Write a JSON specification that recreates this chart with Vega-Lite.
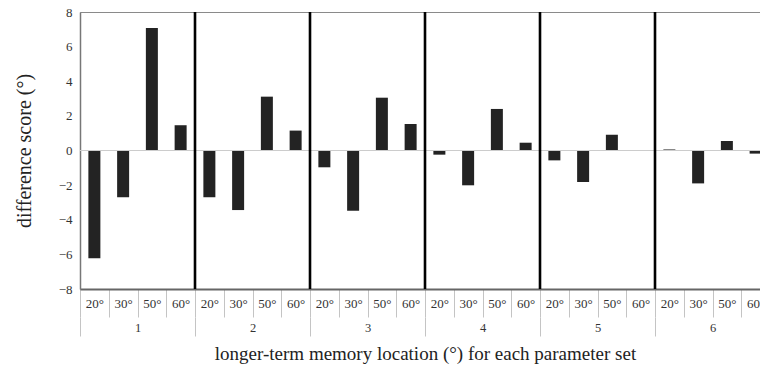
{
  "$schema": "https://vega.github.io/schema/vega-lite/v6.json",
  "padding": {"left": 14, "top": 6, "right": 0, "bottom": 0},
  "width": 690,
  "height": 277,
  "background": "white",
  "config": {
    "font": "Liberation Serif",
    "view": {"stroke": "#8a8a8a", "strokeWidth": 1},
    "axis": {"labelFont": "Liberation Serif", "titleFont": "Liberation Serif", "titleFontWeight": "normal", "labelColor": "#333", "titleColor": "#222", "grid": false},
    "axisY": {"labelOverlap": false, "labelSeparation": 0}
  },
  "layer": [
    {
      "data": {"values": [
        {"key": "1|20°", "group": "1", "angle": "20°", "value": -6.22},
        {"key": "1|30°", "group": "1", "angle": "30°", "value": -2.7},
        {"key": "1|50°", "group": "1", "angle": "50°", "value": 7.08},
        {"key": "1|60°", "group": "1", "angle": "60°", "value": 1.46},
        {"key": "2|20°", "group": "2", "angle": "20°", "value": -2.7},
        {"key": "2|30°", "group": "2", "angle": "30°", "value": -3.44},
        {"key": "2|50°", "group": "2", "angle": "50°", "value": 3.11},
        {"key": "2|60°", "group": "2", "angle": "60°", "value": 1.15},
        {"key": "3|20°", "group": "3", "angle": "20°", "value": -0.97},
        {"key": "3|30°", "group": "3", "angle": "30°", "value": -3.48},
        {"key": "3|50°", "group": "3", "angle": "50°", "value": 3.05},
        {"key": "3|60°", "group": "3", "angle": "60°", "value": 1.53},
        {"key": "4|20°", "group": "4", "angle": "20°", "value": -0.24},
        {"key": "4|30°", "group": "4", "angle": "30°", "value": -2.01},
        {"key": "4|50°", "group": "4", "angle": "50°", "value": 2.4},
        {"key": "4|60°", "group": "4", "angle": "60°", "value": 0.45},
        {"key": "5|20°", "group": "5", "angle": "20°", "value": -0.57},
        {"key": "5|30°", "group": "5", "angle": "30°", "value": -1.82},
        {"key": "5|50°", "group": "5", "angle": "50°", "value": 0.91},
        {"key": "5|60°", "group": "5", "angle": "60°", "value": 0},
        {"key": "6|20°", "group": "6", "angle": "20°", "value": 0.06},
        {"key": "6|30°", "group": "6", "angle": "30°", "value": -1.9},
        {"key": "6|50°", "group": "6", "angle": "50°", "value": 0.55},
        {"key": "6|60°", "group": "6", "angle": "60°", "value": -0.18}
      ]},
      "layer": [
        {
          "mark": {"type": "bar", "size": 12, "color": "#232323", "strokeWidth": 0},
          "encoding": {
            "x": {
              "field": "key", "type": "ordinal", "sort": null,
              "scale": {"paddingInner": 0, "paddingOuter": 0},
              "axis": {
                "title": null,
                "labelFont": "Liberation Serif",
                "labelExpr": "split(datum.label, '|')[1]",
                "labelAngle": 0,
                "labelFontSize": 13,
                "tickBand": "extent",
                "tickSize": 28,
                "tickColor": "#c4c4c4",
                "domainColor": "#666666",
                "domainWidth": 1.8,
                "labelPadding": -20
              }
            },
            "y": {
              "field": "value", "type": "quantitative",
              "scale": {"domain": [-8, 8], "nice": false},
              "axis": {
                "title": "difference score (°)",
                "titleFont": "Liberation Serif",
                "labelFont": "Liberation Serif",
                "titleFontSize": 20,
                "titlePadding": 24,
                "values": [-8, -6, -4, -2, 0, 2, 4, 6, 8],
                "labelOverlap": false,
                "labelFontSize": 13,
                "ticks": false,
                "labelPadding": 8,
                "domainColor": "#777777",
                "domainWidth": 1.5
              }
            }
          }
        },
        {
          "mark": {"type": "rule", "color": "#cccccc", "strokeWidth": 1},
          "encoding": {
            "y": {
              "datum": 0,
              "type": "quantitative",
              "axis": {
                "title": "difference score (°)",
                "values": [-8, -6, -4, -2, 0, 2, 4, 6, 8],
                "labelOverlap": false,
                "labelFontSize": 13,
                "ticks": false,
                "labelPadding": 8
              }
            }
          }
        }
      ]
    },
    {
      "data": {"values": [{"group": "2"}, {"group": "3"}, {"group": "4"}, {"group": "5"}, {"group": "6"}]},
      "mark": {"type": "rule", "strokeWidth": 2.6, "color": "#000000"},
      "encoding": {
        "x": {
          "field": "group", "type": "ordinal", "bandPosition": 0,
          "scale": {"domain": ["1", "2", "3", "4", "5", "6"], "paddingInner": 0, "paddingOuter": 0},
          "axis": {
            "orient": "bottom",
            "offset": 28,
            "domain": false,
            "labelFont": "Liberation Serif",
            "titleFont": "Liberation Serif",
            "labelAngle": 0,
            "labelFontSize": 12.5,
            "tickBand": "extent",
            "tickSize": 19,
            "tickColor": "#c4c4c4",
            "labelPadding": -15,
            "title": "longer-term memory location (°) for each parameter set",
            "titleFontSize": 19,
            "titlePadding": 8
          }
        },
        "y": {
          "datum": 8,
          "type": "quantitative",
          "axis": {
            "title": "difference score (°)",
            "values": [-8, -6, -4, -2, 0, 2, 4, 6, 8],
            "labelOverlap": false,
            "labelFontSize": 13,
            "ticks": false,
            "labelPadding": 8
          }
        },
        "y2": {"datum": -8}
      }
    }
  ],
  "resolve": {"scale": {"x": "independent"}, "axis": {"x": "independent"}}
}
